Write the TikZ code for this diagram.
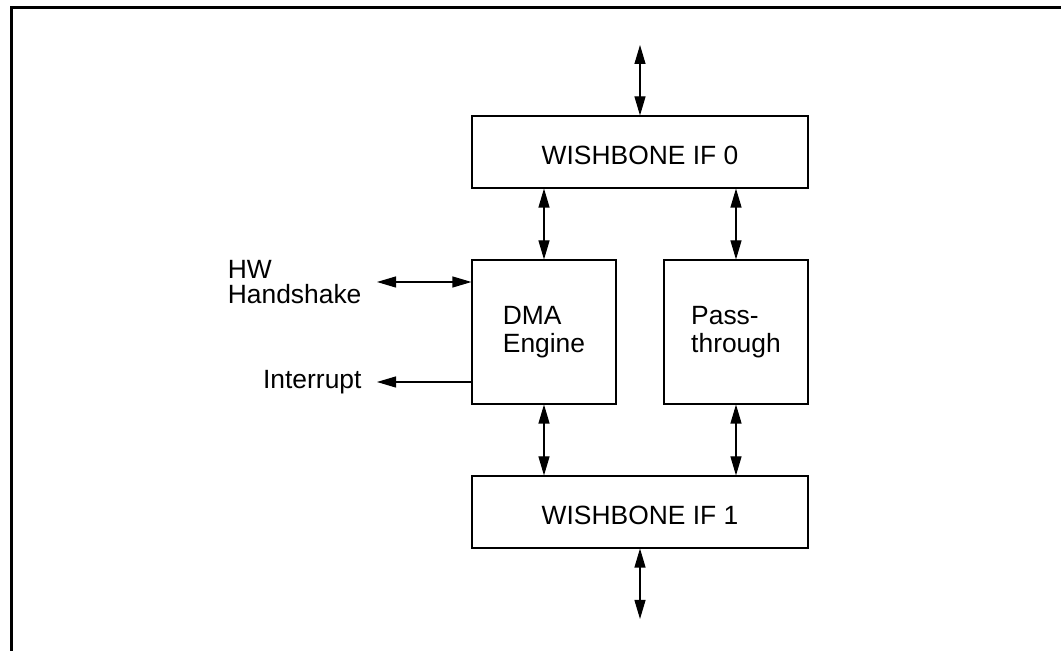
\documentclass[tikz,border=0pt]{standalone}
\usepackage{fontspec}
\setmainfont{Liberation Sans}
\usetikzlibrary{arrows.meta}

\begin{document}
\begin{tikzpicture}[x=.5pt,y=-.5pt,>={Triangle[length=9.5pt,width=5.5pt]},line width=.55pt,
	blk/.style={draw,inner sep=0,align=left,font=\fontsize{13.2}{13.8}\selectfont},
	lbl/.style={inner xsep=7.5pt,inner ysep=0,align=left,font=\fontsize{13.2}{12.8}\selectfont}]
	\useasboundingbox(0,0) rectangle (1061,651);
	\draw[line width=1.5pt](1061,7.5)--(11.5,7.5)--(11.5,651);
	\node[blk,minimum width=168pt,minimum height=36pt,text height=13pt](wb0) at (640,152){WISHBONE IF 0};
	\node[blk,minimum size=72pt](dma) at (544,332){DMA\\Engine};
	\node[blk,minimum size=72pt](pass) at (736,332){Pass-\\through};
	\node[blk,minimum width=168pt,minimum height=36pt,text height=13pt](wb1) at (640,512){WISHBONE IF 1};
	\coordinate(top) at (640,45);
	\coordinate(bot) at (640,619);
	\draw[<->](top)--(wb0.north);
	\draw[<->](wb0.south -| dma.north)--(dma.north);
	\draw[<->](wb0.south -| pass.north)--(pass.north);
	\draw[<->](dma.south)--(dma.south |- wb1.north);
	\draw[<->](pass.south)--(pass.south |- wb1.north);
	\draw[<->](wb1.south)--(bot);
	\node[lbl,anchor=east](hw) at (377,282){HW\\Handshake};
	\node[lbl,anchor=east](irq) at (377,382){Interrupt};
	\draw[<->](hw.east)--(hw.east -| dma.west);
	\draw[->](irq.east -| dma.west)--(irq.east);
\end{tikzpicture}
\end{document}
